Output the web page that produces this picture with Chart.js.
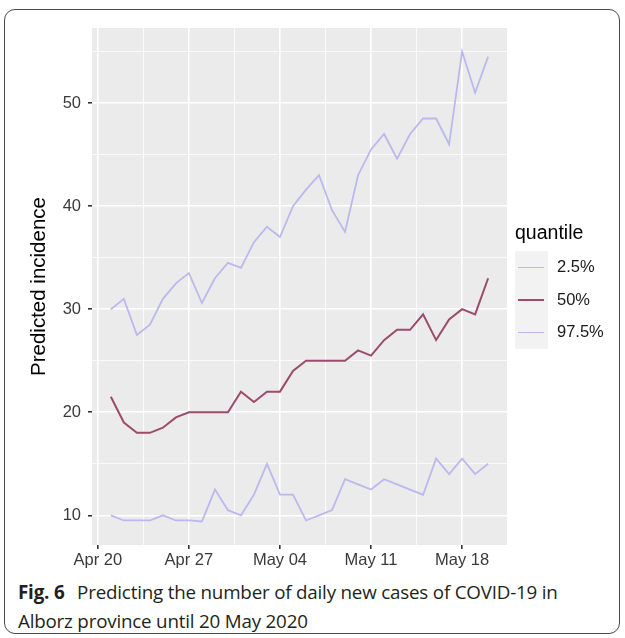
<!DOCTYPE html>
<html>
<head>
<meta charset="utf-8">
<script src="https://cdn.jsdelivr.net/npm/chart.js@4"></script>
<style>
  body { margin: 0; background: #fff; }
  #wrap { position: relative; width: 625px; height: 638px; overflow: hidden; }
  #frame { position: absolute; left: 4px; top: 9px; width: 616px; height: 625px;
           border: 1.5px solid #4a4a4a; border-radius: 11px; box-sizing: border-box; }
  #canvas { position: absolute; left: 0; top: 0; }
  #legend { position: absolute; left: 515px; top: 221px; font-family: "Liberation Sans", Arial, sans-serif; }
  #legend .ttl { font-size: 19.5px; line-height: 22px; color: #000; margin-bottom: 8px; }
  #legend .row { position: relative; height: 32.5px; }
  #legend .key { position: absolute; left: 0; top: 0; width: 33px; height: 32.5px; background: #f2f2f2; }
  #legend .key i { position: absolute; left: 3px; right: 4px; top: 15.5px; }
  #legend .lbl { position: absolute; left: 42px; top: 6px; font-size: 16.5px; line-height: 19px; color: #1a1a1a; white-space: nowrap; }
  #caption { position: absolute; left: 18px; top: 578px; width: 580px;
             font-family: "Open Sans", "Noto Sans", sans-serif; font-size: 18.8px; letter-spacing: -0.2px;
             line-height: 29px; color: #231f20; }
  #caption b { font-weight: 700; margin-right: 8px; letter-spacing: -0.2px; }
</style>
</head>
<body>
<div id="wrap">
  <div id="frame"></div>
  <canvas id="canvas" width="625" height="575"></canvas>
  <div id="legend"></div>
  <div id="caption"><b>Fig. 6</b> Predicting the number of daily new cases of COVID-19 in Alborz province until 20 May 2020</div>
</div>
<script>
// dates of the predictions (2020)
var dates = ['2020-04-21','2020-04-22','2020-04-23','2020-04-24','2020-04-25','2020-04-26','2020-04-27',
  '2020-04-28','2020-04-29','2020-04-30','2020-05-01','2020-05-02','2020-05-03','2020-05-04',
  '2020-05-05','2020-05-06','2020-05-07','2020-05-08','2020-05-09','2020-05-10','2020-05-11',
  '2020-05-12','2020-05-13','2020-05-14','2020-05-15','2020-05-16','2020-05-17','2020-05-18',
  '2020-05-19','2020-05-20'];

var q025 = [10, 9.5, 9.5, 9.5, 10, 9.5, 9.5, 9.4, 12.5, 10.5, 10, 12, 15, 12, 12,
  9.5, 10, 10.5, 13.5, 13, 12.5, 13.5, 13, 12.5, 12, 15.5, 14, 15.5, 14, 15];
var q50 = [21.5, 19, 18, 18, 18.5, 19.5, 20, 20, 20, 20, 22, 21, 22, 22, 24,
  25, 25, 25, 25, 26, 25.5, 27, 28, 28, 29.5, 27, 29, 30, 29.5, 33];
var q975 = [30, 31, 27.5, 28.5, 31, 32.5, 33.5, 30.6, 33, 34.5, 34, 36.5, 38, 37, 40,
  41.6, 43, 39.6, 37.5, 43, 45.5, 47, 44.6, 47, 48.5, 48.5, 46, 55, 51, 54.5];

var seriesNames = ['2.5%', '50%', '97.5%'];
var seriesColors = ['#bcb8ee', '#9c4b6c', '#bcb8ee'];

var xTickDates = ['2020-04-20', '2020-04-27', '2020-05-04', '2020-05-11', '2020-05-18'];
var xTickLabels = ['Apr 20', 'Apr 27', 'May 04', 'May 11', 'May 18'];
var yTicks = [10, 20, 30, 40, 50];

var day0 = Date.parse('2020-04-20');
function dayNum(d) { return Math.round((Date.parse(d) - day0) / 864e5); }

var xMajor = xTickDates.map(dayNum);
var xs = dates.map(dayNum);
var xMinor = [];
for (var i = 0; i < xMajor.length - 1; i++) xMinor.push((xMajor[i] + xMajor[i + 1]) / 2);
var yMinor = yTicks.map(function (v) { return v + 5; });

// ggplot-like 5% expansion
var xLo = Math.min.apply(null, xs), xHi = Math.max.apply(null, xs);
var allY = q025.concat(q50, q975);
var yLo = Math.min.apply(null, allY), yHi = Math.max.apply(null, allY);
var xPad = (xHi - xLo) * 0.05, yPad = (yHi - yLo) * 0.05;

function toPts(arr) { return arr.map(function (v, i) { return {x: xs[i], y: v}; }); }

var panelBg = {
  id: 'panelBg',
  beforeDraw: function (chart) {
    var a = chart.chartArea, c = chart.ctx;
    c.save();
    c.fillStyle = '#ebebeb';
    c.fillRect(a.left, a.top, a.right - a.left, a.bottom - a.top);
    c.restore();
  }
};

var tickFont = {family: '"Liberation Sans", Arial, sans-serif', size: 16.5};

var config = {
  type: 'line',
  data: {
    datasets: [
      {label: seriesNames[0], data: toPts(q025), borderColor: seriesColors[0], backgroundColor: seriesColors[0], borderWidth: 1.8},
      {label: seriesNames[1], data: toPts(q50), borderColor: seriesColors[1], backgroundColor: seriesColors[1], borderWidth: 2},
      {label: seriesNames[2], data: toPts(q975), borderColor: seriesColors[2], backgroundColor: seriesColors[2], borderWidth: 1.8}
    ]
  },
  options: {
    responsive: false,
    animation: false,
    layout: {padding: {left: 27, top: 28, right: 118, bottom: 0}},
    elements: {point: {radius: 0}, line: {tension: 0}},
    plugins: {legend: {display: false}, tooltip: {enabled: false}},
    scales: {
      x: {
        type: 'linear',
        min: xLo - xPad,
        max: xHi + xPad,
        afterBuildTicks: function (s) {
          s.ticks = xMajor.concat(xMinor).sort(function (a, b) { return a - b; })
            .map(function (v) { return {value: v}; });
        },
        afterFit: function (s) { s.height = 30; },
        border: {display: false},
        grid: {
          color: '#ffffff',
          lineWidth: function (c) { return c.tick && xMajor.indexOf(c.tick.value) >= 0 ? 1.6 : 0.8; },
          tickColor: function (c) { return c.tick && xMajor.indexOf(c.tick.value) >= 0 ? '#333333' : 'rgba(0,0,0,0)'; },
          tickLength: 4
        },
        ticks: {
          autoSkip: false, maxRotation: 0, padding: 2, color: '#3a3a3a', font: tickFont,
          callback: function (v) { var k = xMajor.indexOf(v); return k >= 0 ? xTickLabels[k] : ''; }
        }
      },
      y: {
        min: yLo - yPad,
        max: yHi + yPad,
        afterBuildTicks: function (s) {
          s.ticks = yTicks.concat(yMinor).filter(function (v) { return v <= s.max && v >= s.min; })
            .sort(function (a, b) { return a - b; }).map(function (v) { return {value: v}; });
        },
        afterFit: function (s) { s.width = 65; },
        border: {display: false},
        grid: {
          color: '#ffffff',
          lineWidth: function (c) { return c.tick && yTicks.indexOf(c.tick.value) >= 0 ? 1.6 : 0.8; },
          tickColor: function (c) { return c.tick && yTicks.indexOf(c.tick.value) >= 0 ? '#333333' : 'rgba(0,0,0,0)'; },
          tickLength: 4
        },
        ticks: {
          autoSkip: false, padding: 7, color: '#3a3a3a', font: tickFont,
          callback: function (v) { return yTicks.indexOf(v) >= 0 ? String(v) : ''; }
        },
        title: {
          display: true, text: 'Predicted incidence', color: '#000',
          font: {family: '"Liberation Sans", Arial, sans-serif', size: 20.5},
          padding: {top: 0, bottom: 0}
        }
      }
    }
  },
  plugins: [panelBg]
};

window.onload = function () {
  var ctx = document.getElementById('canvas').getContext('2d');
  window.myLine = new Chart(ctx, config);

  // ggplot-style legend built from the datasets
  var lg = document.getElementById('legend');
  var html = '<div class="ttl">quantile</div>';
  window.myLine.data.datasets.forEach(function (ds) {
    html += '<div class="row"><div class="key"><i style="border-top:' + ds.borderWidth + 'px solid ' +
      ds.borderColor + '"></i></div><div class="lbl">' + ds.label + '</div></div>';
  });
  lg.innerHTML = html;
};
</script>
</body>
</html>
